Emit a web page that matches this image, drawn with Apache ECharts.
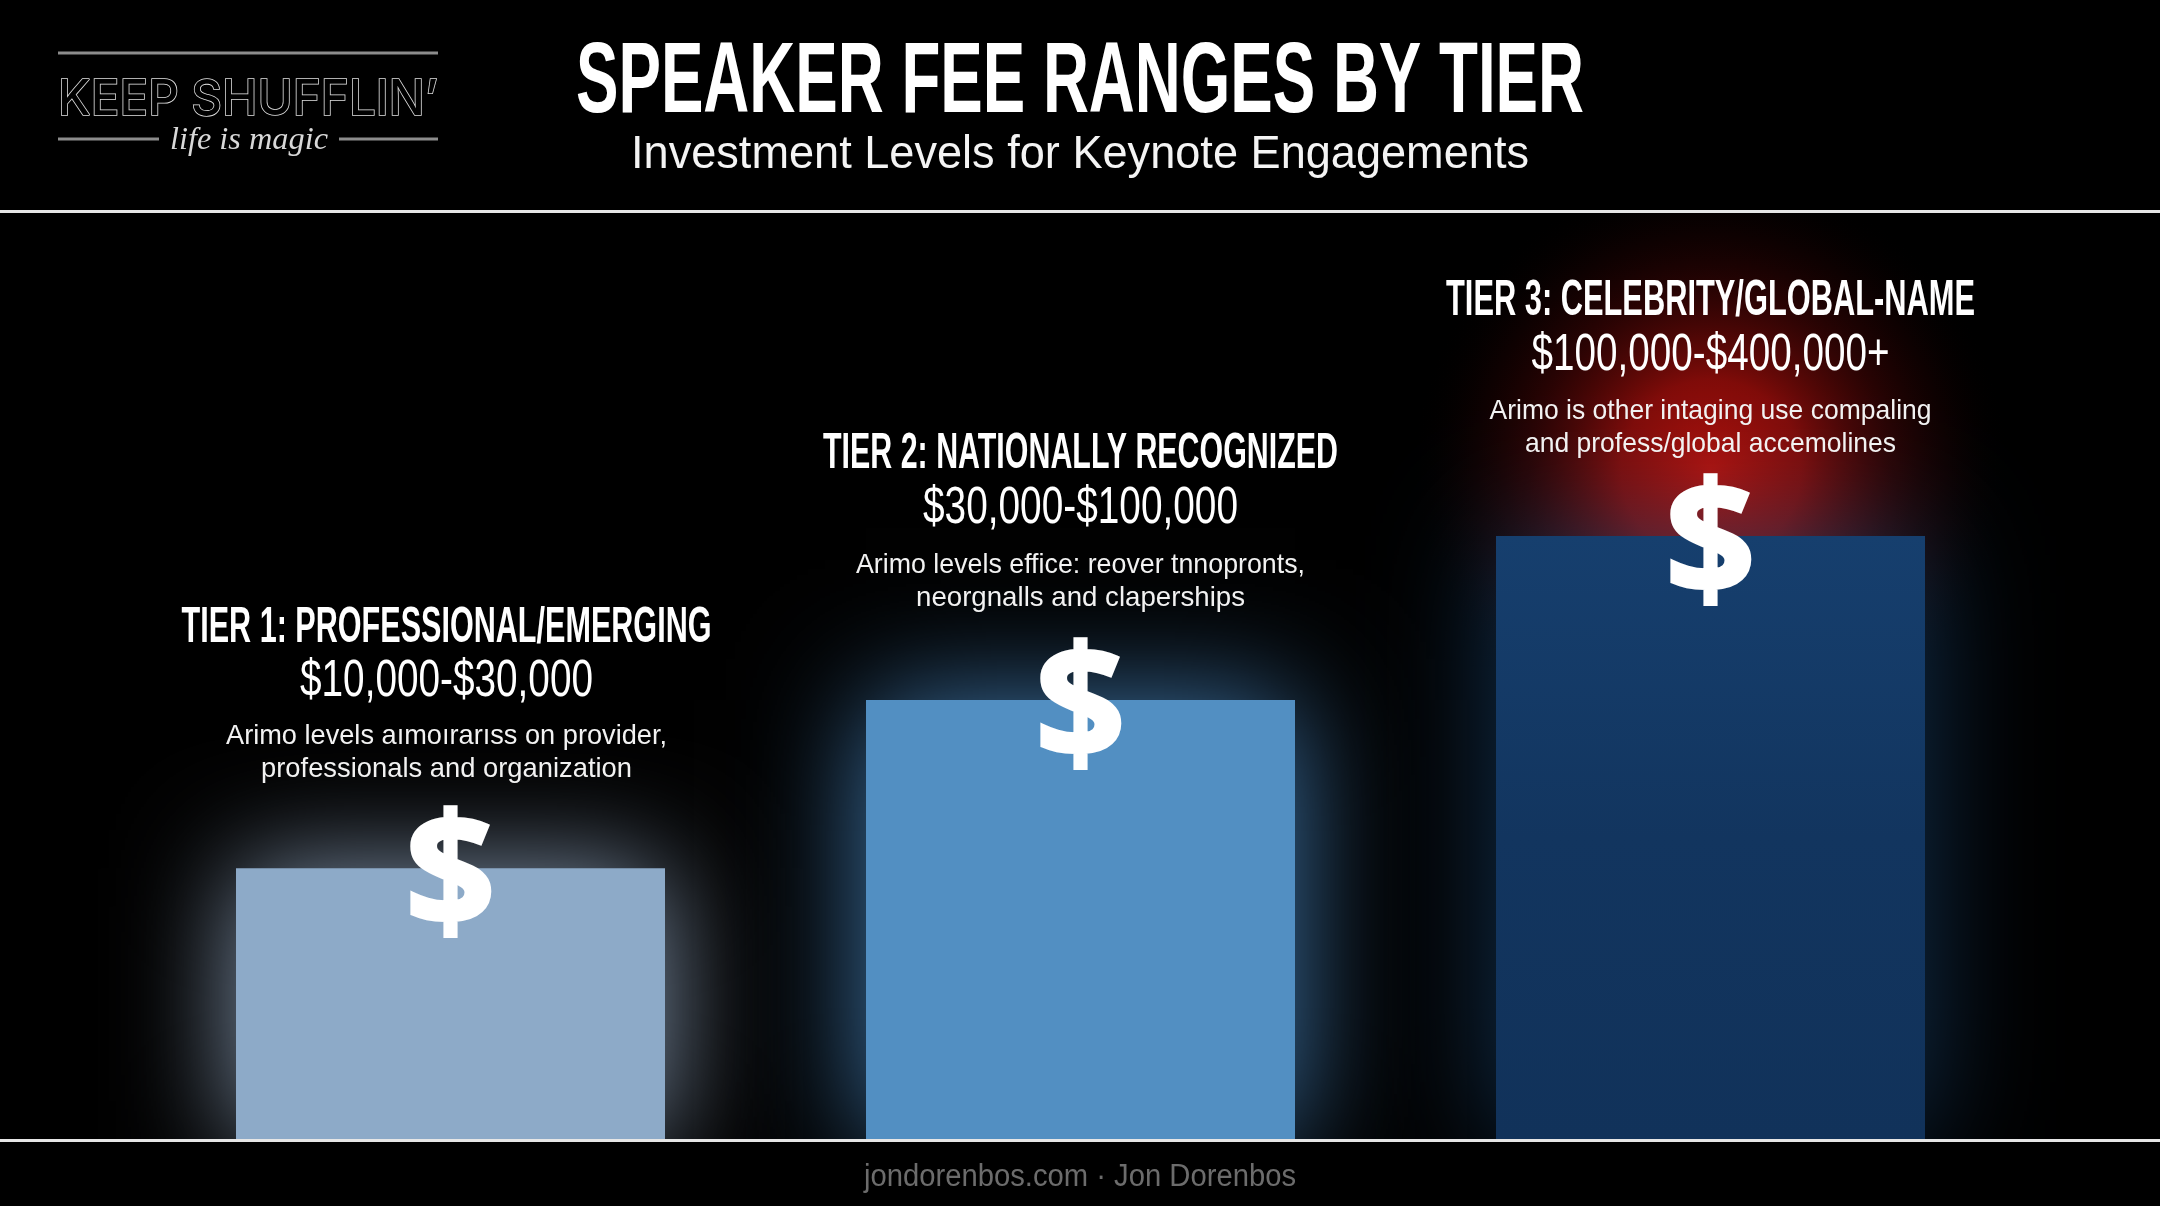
<!DOCTYPE html>
<html><head><meta charset="utf-8">
<style>html,body{margin:0;padding:0;background:#000}#c{width:2160px;height:1206px}</style>
<script src="https://cdn.jsdelivr.net/npm/echarts@6/dist/echarts.min.js"></script>
</head><body><div id="c"></div>
<script>
// ---- data ----
const categories = ['Tier 1', 'Tier 2', 'Tier 3'];
const barValues = [44.9, 72.8, 100];            // relative bar height (Tier 3 = 100)
const tierHeadings = ['TIER 1: PROFESSIONAL/EMERGING', 'TIER 2: NATIONALLY RECOGNIZED', 'TIER 3: CELEBRITY/GLOBAL-NAME'];
const tierRanges = ['$10,000-$30,000', '$30,000-$100,000', '$100,000-$400,000+'];
const descFirst = ['Arimo levels aımoırarıss on provider,', 'Arimo levels effice: reover tnnopronts,', 'Arimo is other intaging use compaling'];
const descSecond = ['professionals and organization', 'neorgnalls and claperships', 'and profess/global accemolines'];
const titleText = 'SPEAKER FEE RANGES BY TIER';
const subtitleText = 'Investment Levels for Keynote Engagements';
const footerText = 'jondorenbos.com · Jon Dorenbos';

// ---- styles ----
const NARROW = '"Liberation Sans Narrow","Liberation Sans",sans-serif';
const SANS = '"Liberation Sans",sans-serif';
const mc = document.createElement('canvas').getContext('2d');
function fit(text, font, w) { mc.font = font; return w / mc.measureText(text).width; }
const headingW = [530, 515, 529], rangeW = [293, 315, 358], desc1W = [441, 449, 442], desc2W = [371, 329, 371];
const textShift = [-4, 0, 0];
const headDy = [-240, -246, -235], rangeDy = [-186, -191, -180], descDy = [-132, -135, -125];
const barFills = [
  '#8DAAC8', '#528FC2',
  new echarts.graphic.LinearGradient(0, 0, 0, 1, [{offset: 0, color: '#163F6E'}, {offset: .5, color: '#12355F'}, {offset: 1, color: '#11325A'}])
];
const glowColors = ['rgba(170,195,225,.78)', 'rgba(80,150,215,.8)', 'rgba(30,80,130,.62)'];

function line(cx, y, text, size, weight, family, targetW, color) {
  const font = weight + ' ' + size + 'px ' + family;
  return {
    type: 'text', x: cx, y: y, scaleX: targetW ? fit(text, font, targetW) : 1,
    style: {text: text, fill: color, font: font, align: 'center', verticalAlign: 'middle'}
  };
}

const chart = echarts.init(document.getElementById('c'), null, {renderer: 'canvas'});
chart.setOption({
  backgroundColor: '#000',
  animation: false,
  grid: {left: 135.5, width: 1890, top: 536, height: 603},
  xAxis: {type: 'category', data: categories, show: false},
  yAxis: {type: 'value', min: 0, max: 100, show: false},
  series: [
    {
      type: 'bar', barWidth: 429, clip: false, z: 2,
      data: barValues.map((v, i) => ({value: v, itemStyle: {color: barFills[i], shadowBlur: 115, shadowColor: glowColors[i]}}))
    },
    {
      type: 'custom', z: 20, clip: false,
      data: barValues.map((v, i) => [i, v]),
      encode: {x: 0, y: 1},
      renderItem: function (params, api) {
        const i = api.value(0), p = api.coord([i, api.value(1)]);
        const cx = p[0] + textShift[i], top = p[1];
        const dollar = line(p[0], top + 14, '$', 158, 'bold', '"Open Sans",sans-serif', 0, '#fff');
        dollar.style.stroke = '#fff';
        dollar.style.lineWidth = 3.5;
        return {type: 'group', children: [
          line(cx, top + headDy[i], tierHeadings[i], 50, 'bold', NARROW, headingW[i], '#fff'),
          line(cx, top + rangeDy[i], tierRanges[i], 51, 'normal', NARROW, rangeW[i], '#fff'),
          line(cx, top + descDy[i], descFirst[i], 28, 'normal', SANS, desc1W[i], '#f2f2f2'),
          line(cx, top + descDy[i] + 33, descSecond[i], 28, 'normal', SANS, desc2W[i], '#f2f2f2'),
          dollar
        ]};
      }
    }
  ],
  graphic: {elements: [
    {type: 'circle', z: 0, shape: {cx: 1711, cy: 470, r: 300},
      style: {fill: new echarts.graphic.RadialGradient(.5, .5, .5, [
        {offset: 0, color: 'rgba(176,16,10,1)'},
        {offset: .3, color: 'rgba(145,13,10,.88)'},
        {offset: .6, color: 'rgba(75,6,6,.55)'},
        {offset: .82, color: 'rgba(28,2,2,.35)'},
        {offset: 1, color: 'rgba(0,0,0,0)'}])}},
    {type: 'rect', z: 10, shape: {x: 0, y: 1141, width: 2160, height: 65}, style: {fill: '#000'}},
    {type: 'rect', z: 10, shape: {x: 0, y: 0, width: 2160, height: 210}, style: {fill: '#000'}},
    {type: 'rect', z: 11, shape: {x: 0, y: 210, width: 2160, height: 3}, style: {fill: '#e6e6e6'}},
    {type: 'rect', z: 11, shape: {x: 0, y: 1139, width: 2160, height: 3}, style: {fill: '#e6e6e6'}},
    // header logo
    {type: 'rect', z: 11, shape: {x: 58, y: 51.5, width: 380, height: 3}, style: {fill: '#8c8c8c'}},
    {type: 'rect', z: 11, shape: {x: 58, y: 137.5, width: 101, height: 3}, style: {fill: '#8c8c8c'}},
    {type: 'rect', z: 11, shape: {x: 339, y: 137.5, width: 99, height: 3}, style: {fill: '#8c8c8c'}},
    {type: 'text', z: 11, x: 248, y: 100, scaleX: fit("KEEP SHUFFLIN’", '500 50px Inter', 380),
      style: {text: "KEEP SHUFFLIN’", font: '500 50px Inter', fill: '#000', stroke: '#e0e0e0', lineWidth: 1.6, align: 'center', verticalAlign: 'middle'}},
    {type: 'text', z: 11, x: 249, y: 141, scaleX: fit('life is magic', 'italic 32px "Liberation Serif"', 158),
      style: {text: 'life is magic', font: 'italic 32px "Liberation Serif"', fill: '#d8d8d8', align: 'center', verticalAlign: 'middle'}},
    // titles
    {type: 'text', z: 11, x: 1080, y: 84, scaleX: fit(titleText, 'bold 100px ' + NARROW, 1008),
      style: {text: titleText, font: 'bold 100px ' + NARROW, fill: '#fff', align: 'center', verticalAlign: 'middle'}},
    {type: 'text', z: 11, x: 1080, y: 155, scaleX: fit(subtitleText, '47px ' + SANS, 898),
      style: {text: subtitleText, font: '47px ' + SANS, fill: '#f4f4f4', align: 'center', verticalAlign: 'middle'}},
    {type: 'text', z: 11, x: 1080, y: 1177, scaleX: fit(footerText, '31px ' + SANS, 432),
      style: {text: footerText, font: '31px ' + SANS, fill: '#6c6c6c', align: 'center', verticalAlign: 'middle'}}
  ]}
});
</script></body></html>
